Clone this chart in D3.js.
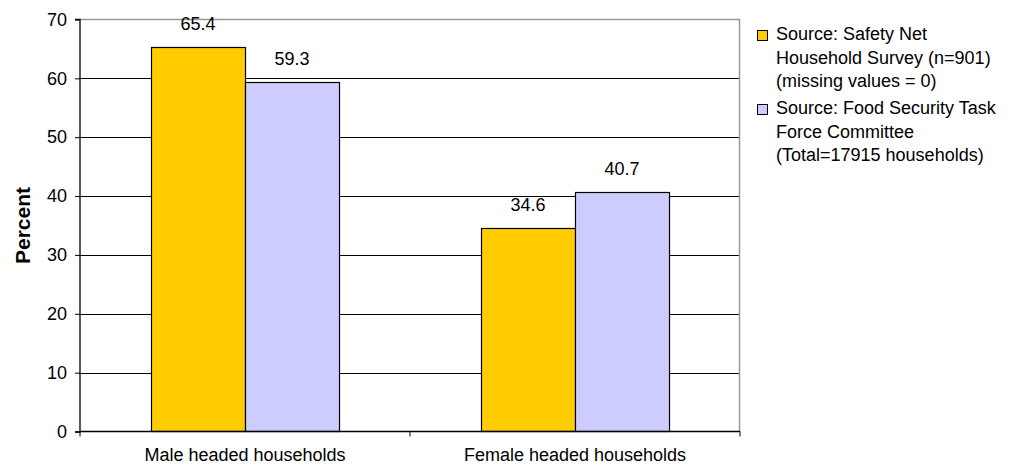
<!DOCTYPE html>
<html>
<head>
  <script src="https://d3js.org/d3.v7.min.js"></script>
  <style>
  body { margin: 0; background: #fff; }
  text { font-family: Arial, "Liberation Sans", sans-serif; fill: #000; }
  </style>
</head>
<body>
  <script>
  var w = 1009;
  var h = 473;

  //Chart data
  var categories = ["Male headed households", "Female headed households"];
  var seriesNames = ["survey", "taskforce"];
  var surveyValues = [65.4, 34.6];
  var taskforceValues = [59.3, 40.7];
  var yTicks = [0, 10, 20, 30, 40, 50, 60, 70];
  var legendLines = [
    ["Source: Safety Net", "Household Survey (n=901)", "(missing values = 0)"],
    ["Source: Food Security Task", "Force Committee", "(Total=17915 households)"]
  ];
  var colors = ["#FFCC00", "#CCCCFF"];

  //Plot area
  var plotLeft = 80, plotRight = 740, plotTop = 19.5, plotBottom = 431.5;

  var svg = d3.select("body")
    .append("svg")
    .attr("width", w)
    .attr("height", h);

  var x0 = d3.scaleBand()
    .domain(categories)
    .range([plotLeft, plotRight])
    .padding(0);

  var x1 = d3.scaleBand()
    .domain(seriesNames)
    .range([0, x0.bandwidth()])
    .paddingInner(0)
    .paddingOuter(0.755);

  var y = d3.scaleLinear()
    .domain([0, 70])
    .range([plotBottom, plotTop]);

  //Gridlines
  svg.append("g")
    .selectAll("line")
    .data(yTicks.filter(function(d){ return d > 0 && d < 70; }))
    .enter()
    .append("line")
      .attr("x1", plotLeft)
      .attr("x2", plotRight)
      .attr("y1", function(d){ return Math.round(y(d)) + 0.5; })
      .attr("y2", function(d){ return Math.round(y(d)) + 0.5; })
      .style("stroke", "#000")
      .style("stroke-width", "1px");

  //Plot border (top, right) in gray
  svg.append("path")
    .attr("d", "M" + plotLeft + "," + plotTop + "H" + (plotRight - 0.5) + "V" + plotBottom)
    .attr("fill", "none")
    .style("stroke", "#999")
    .style("stroke-width", "1.5px");

  //Bars
  var rows = categories.map(function(c, i){
    return {cat: c, vals: [
      {key: "survey", v: surveyValues[i], c: colors[0]},
      {key: "taskforce", v: taskforceValues[i], c: colors[1]}
    ]};
  });

  var groups = svg.append("g")
    .selectAll("g")
    .data(rows)
    .enter()
    .append("g")
      .attr("transform", function(d){ return "translate(" + x0(d.cat) + ",0)"; });

  groups.selectAll("rect")
    .data(function(d){ return d.vals; })
    .enter()
    .append("rect")
      .attr("x", function(d){ return Math.round(x1(d.key)) + 0.5; })
      .attr("y", function(d){ return Math.round(y(d.v)) + 0.5; })
      .attr("width", x1.bandwidth())
      .attr("height", function(d){ return plotBottom - Math.round(y(d.v)) - 0.5; })
      .attr("fill", function(d){ return d.c; })
      .style("stroke", "#000")
      .style("stroke-width", "1.2px");

  groups.selectAll("text")
    .data(function(d){ return d.vals; })
    .enter()
    .append("text")
      .attr("x", function(d){ return x1(d.key) + x1.bandwidth() / 2; })
      .attr("y", function(d){ return y(d.v) - 17; })
      .attr("text-anchor", "middle")
      .style("font-size", "18px")
      .text(function(d){ return d.v.toFixed(1); });

  //Axes
  var yAxis = d3.axisLeft(y)
    .tickValues(yTicks)
    .tickSize(5)
    .tickPadding(8);

  svg.append("g")
    .attr("transform", "translate(" + plotLeft + ",0)")
    .call(yAxis)
    .call(function(g){
      g.selectAll("text").style("font-size", "18px").attr("font-family", null);
      g.select(".domain").attr("d", "M-5," + plotTop + "H0V" + (plotBottom + 0.5) + "H-5")
        .style("stroke-width", "1.3px");
    });

  var xAxis = d3.axisBottom(x0)
    .tickSize(0)
    .tickPadding(17);

  svg.append("g")
    .attr("transform", "translate(0," + plotBottom + ")")
    .call(xAxis)
    .call(function(g){
      g.selectAll("text").style("font-size", "18px").attr("font-family", null);
      g.select(".domain").attr("d", "M" + plotLeft + ",0H" + plotRight).style("stroke-width", "1.5px");
    });

  //Category divider ticks below x axis
  svg.append("g")
    .selectAll("line")
    .data([plotLeft, x0(categories[1]), plotRight])
    .enter()
    .append("line")
      .attr("x1", function(d){ return d; })
      .attr("x2", function(d){ return d; })
      .attr("y1", plotBottom)
      .attr("y2", plotBottom + 5)
      .style("stroke", "#000");

  //Y axis title
  svg.append("text")
    .attr("transform", "translate(30," + ((plotTop + plotBottom) / 2) + ")rotate(-90)")
    .attr("text-anchor", "middle")
    .style("font-size", "21px")
    .style("font-weight", "bold")
    .text("Percent");

  //Legend
  var legend = svg.append("g")
    .selectAll("g")
    .data(legendLines)
    .enter()
    .append("g")
      .attr("transform", function(d, i){ return "translate(757," + (35 + i * 74) + ")"; });

  legend.append("rect")
    .attr("x", 0.5)
    .attr("y", -4.5)
    .attr("width", 10)
    .attr("height", 10)
    .attr("fill", function(d, i){ return colors[i]; })
    .style("stroke", "#000")
    .style("stroke-width", "1px");

  legend.selectAll("text")
    .data(function(d){ return d; })
    .enter()
    .append("text")
      .attr("x", 19)
      .attr("y", function(d, i){ return i * 23.7 + 5; })
      .style("font-size", "18px")
      .text(function(d){ return d; });
  </script>
</body>
</html>
